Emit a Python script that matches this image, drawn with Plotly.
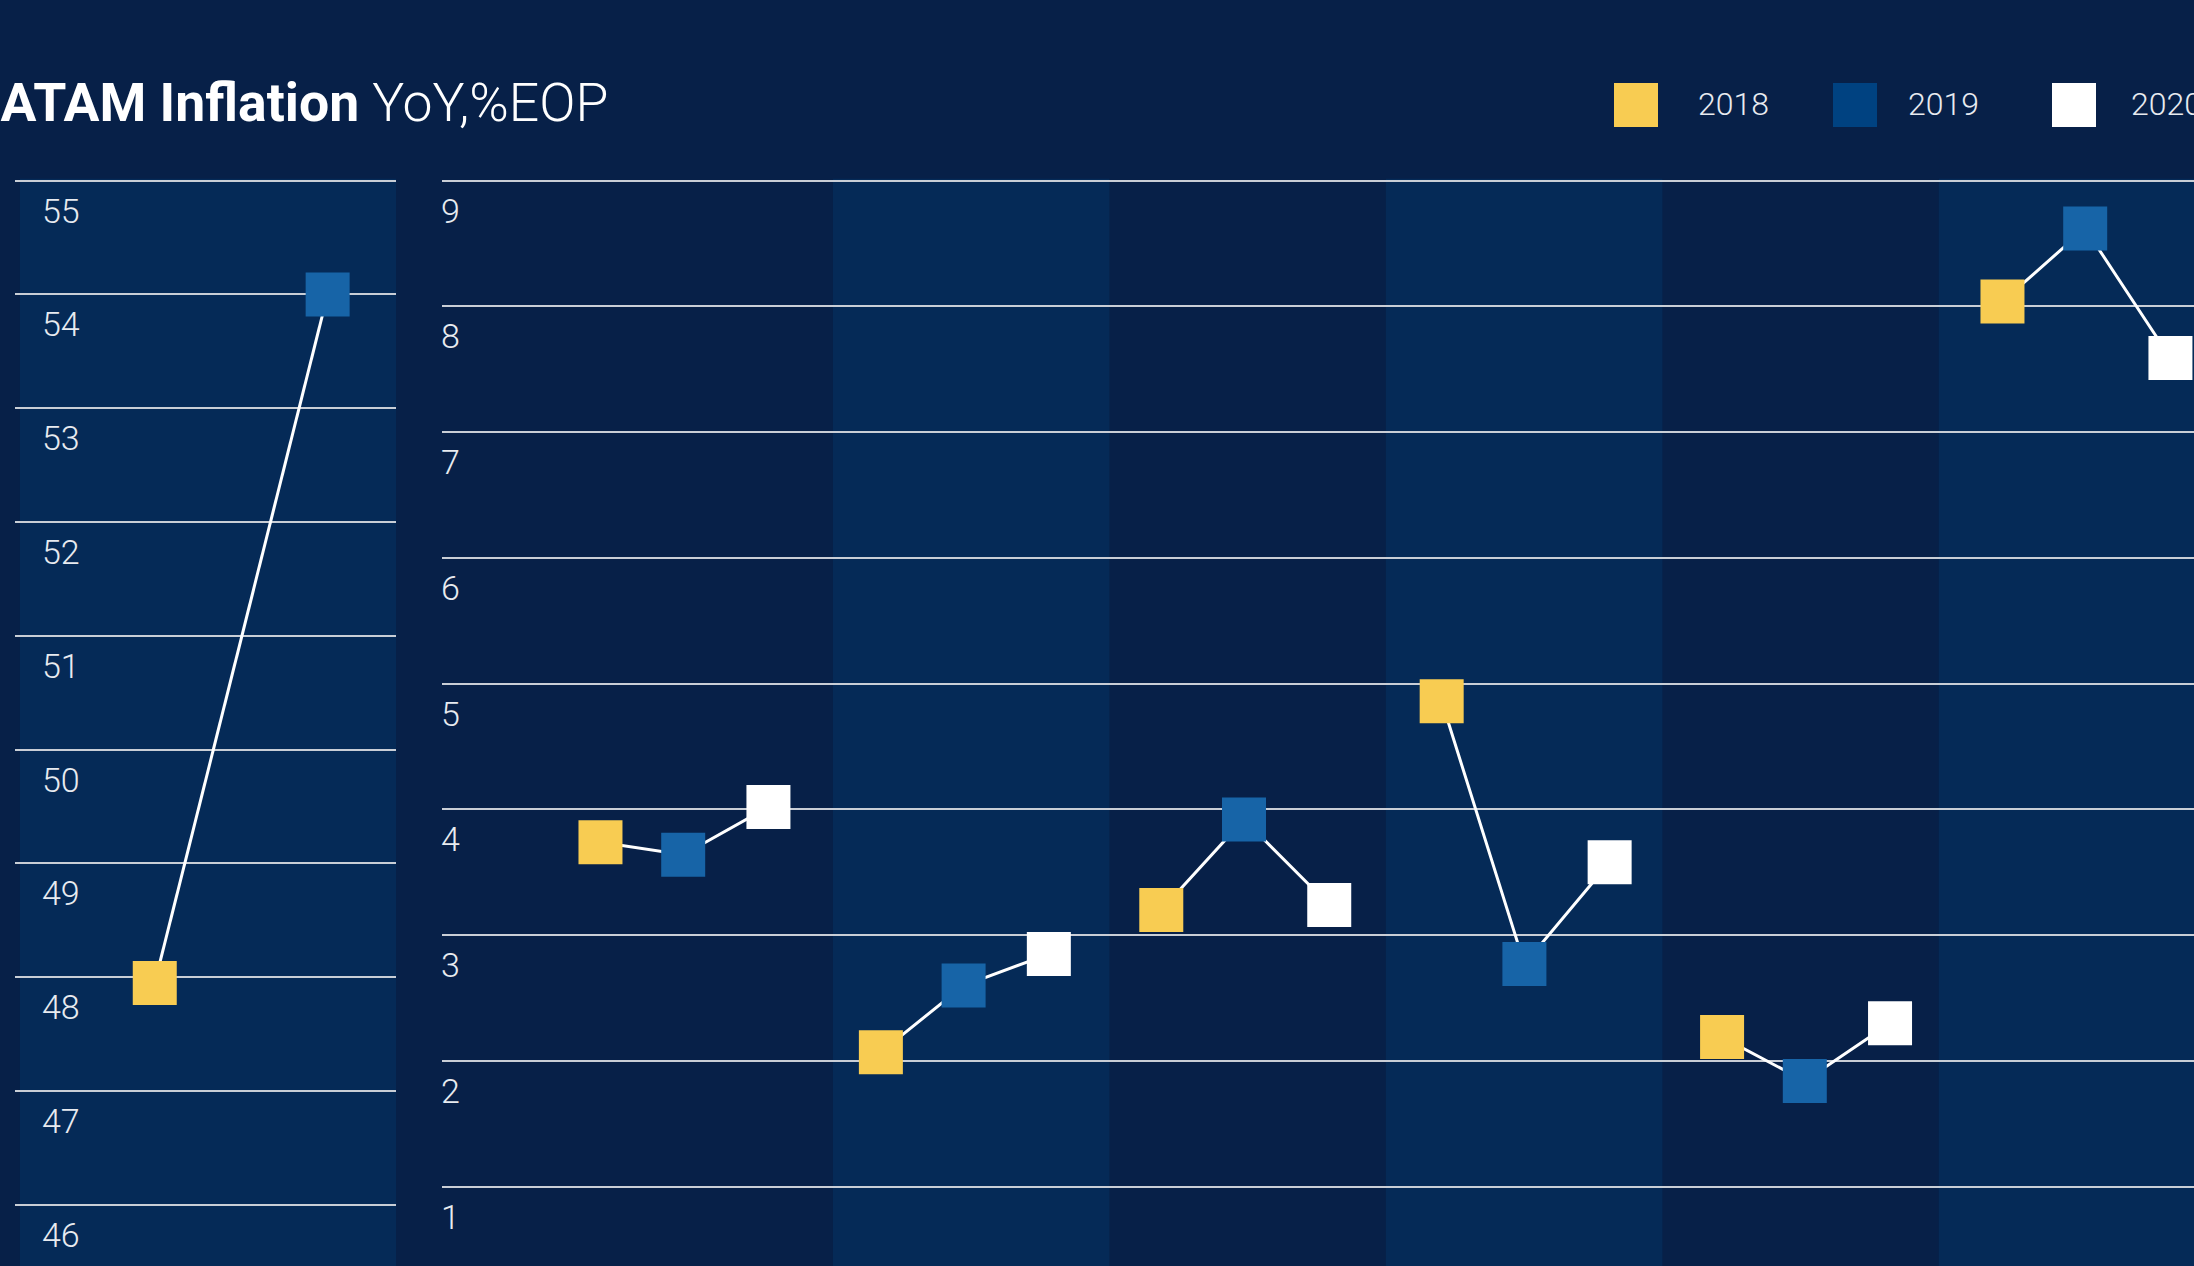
import plotly.graph_objects as go

W, H = 2194, 1266

# ---------------- data ----------------
years = ["2018", "2019", "2020"]
marker_colors = ["#f8cc52", "#1764a7", "#ffffff"]
legend_colors = ["#f8cc52", "#004281", "#ffffff"]

arg_country = "Argentina"
arg_2018 = 47.95
arg_2019 = 54.0

countries = ["Brazil", "Chile", "Colombia", "Mexico", "Peru", "Uruguay"]
infl_2018 = [3.74, 2.07, 3.20, 4.86, 2.19, 8.04]
infl_2019 = [3.64, 2.60, 3.92, 2.77, 1.84, 8.62]
infl_2020 = [4.02, 2.85, 3.24, 3.58, 2.30, 7.59]

left_ticks = list(range(46, 56))
right_ticks = list(range(1, 10))

# ---------------- style ----------------
BG = "#072048"
BAND = "#052a57"
GRID = "#c9ced6"
TEXT = "#e8ebf0"
FONT = "Roboto"
year_offsets = [-0.295, 0.0, 0.304]
BAND_SCALE, BAND_SHIFT = 0.986, 0.041


def px(x):
    return x / W


def py(y):
    return 1 - y / H


fig = go.Figure()

# ----- left panel (Argentina) -----
arg_vals = [arg_2018, arg_2019]
arg_off = [-0.30, 0.0]
fig.add_trace(go.Scatter(x=arg_off, y=arg_vals, mode="lines",
                         line=dict(color="#ffffff", width=3),
                         xaxis="x", yaxis="y", showlegend=False, hoverinfo="skip"))
for k, v in enumerate(arg_vals):
    fig.add_trace(go.Scatter(x=[arg_off[k]], y=[v], mode="markers",
                             marker=dict(symbol="square", size=44, color=marker_colors[k],
                                         line=dict(width=0)),
                             name=years[k], text=[arg_country],
                             xaxis="x", yaxis="y", showlegend=False))

# ----- right panel -----
series = [infl_2018, infl_2019, infl_2020]
for i, c in enumerate(countries):
    fig.add_trace(go.Scatter(x=[i + o for o in year_offsets],
                             y=[s[i] for s in series], mode="lines",
                             line=dict(color="#ffffff", width=3),
                             xaxis="x2", yaxis="y2", showlegend=False, hoverinfo="skip"))
for k, s in enumerate(series):
    fig.add_trace(go.Scatter(x=[i + year_offsets[k] for i in range(len(countries))], y=s,
                             mode="markers", text=countries,
                             marker=dict(symbol="square", size=44, color=marker_colors[k],
                                         line=dict(width=0)),
                             name=years[k], xaxis="x2", yaxis="y2", showlegend=False))

shapes = []
# left panel background
shapes.append(dict(type="rect", xref="x domain", yref="y domain", x0=0.013, x1=1, y0=0, y1=1,
                   fillcolor=BAND, line=dict(width=0), layer="below"))
# alternating bands on right panel
for i in range(len(countries)):
    if i % 2 == 1:
        shapes.append(dict(type="rect", xref="x2", yref="y2 domain",
                           x0=(i - 0.5) * BAND_SCALE + BAND_SHIFT,
                           x1=(i + 0.5) * BAND_SCALE + BAND_SHIFT,
                           y0=0, y1=1, fillcolor=BAND, line=dict(width=0), layer="below"))

annotations = []
# title
annotations.append(dict(text="<b>LATAM Inflation</b> YoY,%EOP", xref="paper", yref="paper",
                        x=px(-31), y=py(102), xanchor="left", yanchor="middle", showarrow=False,
                        font=dict(family=FONT, size=53.5, color="#ffffff", weight=300)))
# custom legend
sw_left = [1614, 1833, 2052]
txt_left = [1698, 1908, 2131]
sw = 44
for k, yr in enumerate(years):
    x0 = sw_left[k]
    shapes.append(dict(type="rect", xref="paper", yref="paper",
                       x0=px(x0), x1=px(x0 + sw), y0=py(127), y1=py(83),
                       fillcolor=legend_colors[k], line=dict(width=0)))
    annotations.append(dict(text=yr, xref="paper", yref="paper", x=px(txt_left[k] - 2), y=py(104),
                            xanchor="left", yanchor="middle", showarrow=False,
                            font=dict(family=FONT, size=32, color=TEXT, weight=300)))

TOP = 178.7  # pixel of plot top (a hair above the top gridline)
top_frac = py(TOP)
ax_common = dict(showgrid=False, zeroline=False, showticklabels=False, showline=False, ticks="")
y_common = dict(zeroline=False, showline=False, ticks="", ticklabelposition="inside",
                tickfont=dict(family=FONT, size=34, color=TEXT, weight=300),
                gridcolor=GRID, ticklabelshift=30)

left_unit = 113.8
right_unit = 125.75
x2_unit, x2_zero = 280.4, 683.2

fig.update_layout(
    width=W, height=H,
    margin=dict(l=0, r=0, t=0, b=0),
    paper_bgcolor=BG, plot_bgcolor=BG,
    showlegend=False,
    xaxis=dict(domain=[px(15), px(396)], range=[-0.5425, 0.1186], anchor="y", **ax_common),
    yaxis=dict(domain=[0, top_frac],
               range=[55 - (H - 180.6) / left_unit, 55 + (180.6 - TOP) / left_unit],
               tickvals=left_ticks, anchor="x", gridwidth=1.5, ticklabelstandoff=24, **y_common),
    xaxis2=dict(domain=[px(442), 1],
                range=[(442 - x2_zero) / x2_unit, (W - x2_zero) / x2_unit],
                anchor="y2", **ax_common),
    yaxis2=dict(domain=[0, top_frac],
                range=[9 - (H - 180.7) / right_unit, 9 + (180.7 - TOP) / right_unit],
                tickvals=right_ticks, anchor="x2", gridwidth=2, ticklabelstandoff=-4, **y_common),
    shapes=shapes,
    annotations=annotations,
)

fig.write_html(
    "out.html",
    config={"displayModeBar": False},
    post_script="document.body.style.margin='0';document.body.style.padding='0';"
                "document.body.style.overflow='hidden';",
)
